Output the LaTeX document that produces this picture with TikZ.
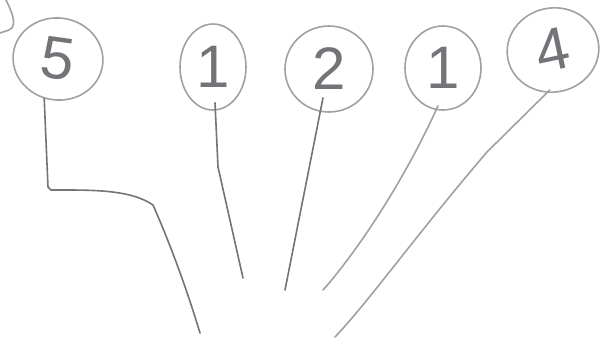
\documentclass[tikz,border=0pt]{standalone}
\usepackage{fontspec}
\setmainfont{Liberation Sans}
\usetikzlibrary{shapes.geometric}
\definecolor{pencil}{RGB}{115,115,120}
\definecolor{pencillight}{RGB}{160,160,165}
\begin{document}
\begin{tikzpicture}[x=1pt,y=-1pt,
  bubble/.style={ellipse,draw=pencillight,line width=1.6pt,inner sep=0pt,
    text=pencil,font=\fontsize{60}{60}\selectfont},
  stem/.style={draw=pencil,line width=1.6pt,line cap=round,line join=round},
  faint/.style={draw=pencillight,line width=1.6pt,line cap=round,line join=round}]
\useasboundingbox (0,0) rectangle (604,349);
% bubbles
\node[bubble,minimum width=90pt,minimum height=82pt,rotate=-8] (n5) at (58,59) {5};
\node[bubble,minimum width=66pt,minimum height=86pt] (n1) at (213,67) {1};
\node[bubble,minimum width=88pt,minimum height=86pt] (n2) at (329,69) {2};
\node[bubble,minimum width=76pt,minimum height=84pt] (n1b) at (443,68) {1};
\node[bubble,minimum width=92pt,minimum height=84pt,rotate=12] (n4) at (553,50) {4};
% free ends
\coordinate (e5) at (200,333);
\coordinate (e1) at (243,278);
\coordinate (e2) at (285,290);
\coordinate (e1b) at (323,290);
\coordinate (e4) at (335,337);
\coordinate (tl) at (0,33);
\coordinate (tls) at (6,0);
% stems
\draw[stem] (n5.south) ++(-8,-2) -- (48,187) -- (51,190)
  .. controls (90,190) and (130,189) .. (153,205)
  .. controls (175,255) and (190,300) .. (e5);
\draw[stem] (n1.south) ++(2,-8) -- (218,167) -- (e1);
\draw[stem] (n2.south) ++(-6,-15) -- (e2);
\draw[faint] (n1b.south) ++(-5,-5) .. controls (400,190) and (350,260) .. (e1b);
\draw[faint] (n4.south) ++(-12,-2) -- (487,152) .. controls (420,230) and (370,300) .. (e4);
% top-left stroke
\draw[faint] (tls) .. controls (12,12) and (18,26) .. (9,30) -- (tl);
\end{tikzpicture}
\end{document}
